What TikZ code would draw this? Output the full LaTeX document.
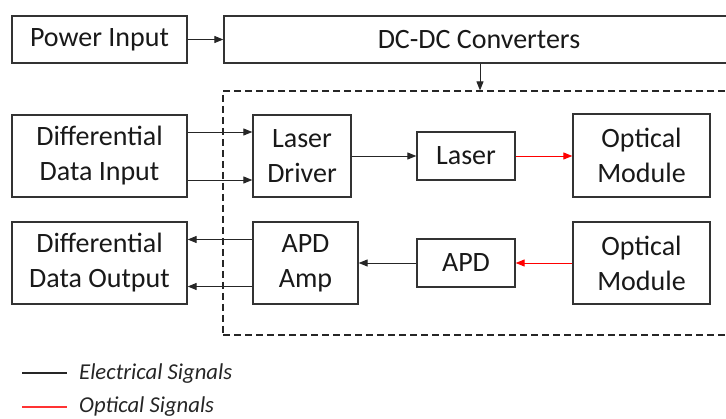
\documentclass[tikz,border=0pt]{standalone}
\usepackage{fontspec}
\setmainfont{Carlito}
\usetikzlibrary{arrows.meta}
\begin{document}
\begin{tikzpicture}[x=1pt,y=-1pt,
  blk/.style={draw=black!80, line width=1.3pt, align=center, inner sep=0pt,
    font=\fontsize{28}{35}\selectfont, text=black!90},
  sig/.style={line width=0.9pt, color=black!85, -{Triangle[length=9pt,width=7pt]}},
  opt/.style={sig, color=red},
  legtext/.style={anchor=base west, inner sep=0pt, font=\fontsize{22.7}{27}\selectfont\itshape, text=black!85}
]
\clip (0,0) rectangle (726,419);
\fill[white] (0,0) rectangle (726,419);

% top row
\node[blk, minimum width=175pt, minimum height=47pt] (pin) at (99.5,39.5) {Power Input};
\node[blk, minimum width=512pt, minimum height=47pt] (dcdc) at (480,39.5) {};
\node[inner sep=0pt, font=\fontsize{28}{35}\selectfont, text=black!90] (dcdct) at (479,39.5) {DC-DC Converters};

% dashed module box
\node[draw=black!85, line width=1.2pt, dash pattern=on 7pt off 4pt, minimum width=514pt, minimum height=244pt, inner sep=0pt] (core) at (480,213) {};

% transmit path
\node[blk, minimum width=175pt, minimum height=82pt] (din) at (99.5,156) {Differential\\Data Input};
\node[blk, minimum width=98pt, minimum height=82pt] (ld) at (302,156) {Laser\\Driver};
\node[blk, minimum width=98pt, minimum height=48pt] (las) at (466,156) {Laser};
\node[blk, minimum width=137pt, minimum height=83pt] (om1) at (641.5,155.5) {Optical\\Module};

% receive path
\node[blk, minimum width=175pt, minimum height=82pt] (dout) at (99.5,263) {Differential\\Data Output};
\node[blk, minimum width=105pt, minimum height=82pt] (amp) at (305.5,263) {APD\\Amp};
\node[blk, minimum width=98pt, minimum height=48pt] (apd) at (466,263) {APD};
\node[blk, minimum width=137pt, minimum height=82pt] (om2) at (641.5,263) {Optical\\Module};

% connectors
\draw[sig] (pin.east) -- (dcdc.west);
\draw[sig] (dcdc.south) -- (core.north);
\draw[sig] ([yshift=24pt]din.east) -- ([yshift=24pt]din.east -| ld.west);
\draw[sig] ([yshift=-24pt]din.east) -- ([yshift=-24pt]din.east -| ld.west);
\draw[sig] (ld.east) -- (las.west);
\draw[opt] (las.east) -- (om1.west |- las.east);
\draw[opt] (om2.west) -- (apd.east);
\draw[sig] (apd.west) -- (amp.east);
\draw[sig] ([yshift=23.5pt]amp.west) -- ([yshift=23.5pt]amp.west -| dout.east);
\draw[sig] ([yshift=-23.5pt]amp.west) -- ([yshift=-23.5pt]amp.west -| dout.east);

% legend
\coordinate (e1) at (22,373);
\coordinate (e2) at (67,373);
\coordinate (o1) at (22,407);
\coordinate (o2) at (67,407);
\draw[line width=1.3pt, black!85] (e1) -- (e2);
\draw[line width=1.3pt, red!80] (o1) -- (o2);
\node[legtext] (lt1) at (79,380) {Electrical Signals};
\node[legtext] (lt2) at (79,413) {Optical Signals};
\end{tikzpicture}
\end{document}
